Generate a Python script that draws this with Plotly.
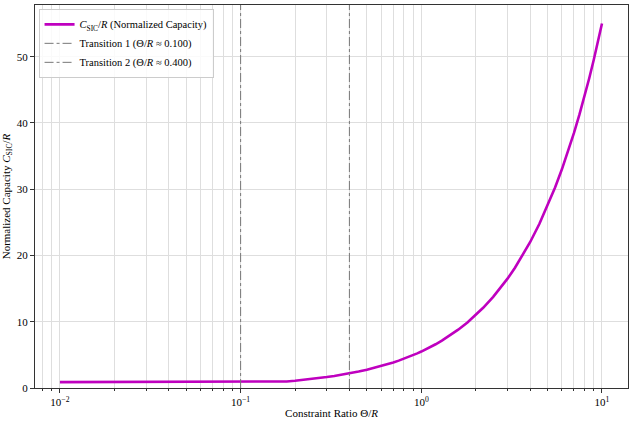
import plotly.graph_objects as go

# curve
theta_r = [0.01, 0.02, 0.05, 0.1, 0.16, 0.18, 0.2, 0.22, 0.25, 0.28, 0.3, 0.33, 0.36, 0.4, 0.45,
           0.5, 0.55, 0.6, 0.65, 0.7, 0.75, 0.8, 0.85, 0.9, 0.95, 1.0, 1.1, 1.2, 1.3, 1.4, 1.5,
           1.6, 1.8, 2.0, 2.2, 2.5, 2.8, 3.0, 3.3, 3.6, 4.0, 4.5, 5.0, 5.5, 6.0, 6.5, 7.0, 7.5,
           8.0, 8.5, 9.0, 9.5, 10.0]
c_sic = [0.88, 0.88, 0.88, 0.88, 0.88, 0.99, 1.1, 1.21, 1.38, 1.54, 1.65, 1.82, 1.98, 2.2, 2.48,
         2.75, 3.03, 3.3, 3.58, 3.85, 4.13, 4.4, 4.68, 4.95, 5.23, 5.5, 6.05, 6.6, 7.15, 7.7, 8.25,
         8.8, 9.9, 11.0, 12.1, 13.75, 15.4, 16.5, 18.15, 19.8, 22.0, 24.75, 27.5, 30.25, 33.0,
         35.75, 38.5, 41.25, 44.0, 46.75, 49.5, 52.25, 55.0]

transitions = [0.1, 0.4]
trans_names = ["Transition 1 (Θ/<i>R</i> ≈ 0.100)", "Transition 2 (Θ/<i>R</i> ≈ 0.400)"]

y_top = 57.8
font = "Liberation Serif"

fig = go.Figure()
fig.add_trace(go.Scatter(x=theta_r, y=c_sic, mode="lines", line=dict(color="#bf00bf", width=2.6),
                         name="<i>C</i><sub>SIC</sub>/<i>R</i> (Normalized Capacity)"))
for t, nm in zip(transitions, trans_names):
    fig.add_trace(go.Scatter(x=[t, t], y=[0, y_top], mode="lines",
                             line=dict(color="#777777", width=1, dash="dashdot"), name=nm))

grid = "#dedede"
fig.update_xaxes(type="log", range=[-2.138, 1.144], automargin=False,
                 tickvals=[0.01, 0.1, 1, 10],
                 ticktext=["10<sup>−2</sup>", "10<sup>−1</sup>", "10<sup>0</sup>", "10<sup>1</sup>"],
                 ticks="outside", ticklen=4, tickcolor="#333", showline=True, linecolor="#333",
                 mirror=True, linewidth=1, showgrid=True, gridcolor=grid, gridwidth=0.8,
                 minor=dict(dtick="D1", ticks="outside", ticklen=2, tickcolor="#333",
                            showgrid=True, gridcolor=grid, gridwidth=0.8),
                 title=dict(text="Constraint Ratio Θ/<i>R</i>", standoff=2, font=dict(size=11)),
                 zeroline=False)
fig.update_yaxes(range=[0, y_top], tickvals=[0, 10, 20, 30, 40, 50], automargin=False,
                 ticks="outside", ticklen=4, tickcolor="#333", showline=True, linecolor="#333",
                 mirror=True, linewidth=1, showgrid=True, gridcolor=grid, gridwidth=0.8,
                 title=dict(text="Normalized Capacity <i>C</i><sub>SIC</sub>/<i>R</i>", standoff=8,
                            font=dict(size=11)),
                 zeroline=False)
fig.update_layout(width=634, height=421, margin=dict(l=35, r=6, t=5, b=33),
                  plot_bgcolor="white", paper_bgcolor="white",
                  font=dict(family=font, size=11, color="black"),
                  legend=dict(x=0.006, y=0.99, xanchor="left", yanchor="top",
                              bgcolor="rgba(255,255,255,0.85)", bordercolor="#cccccc", borderwidth=1,
                              font=dict(size=10.5), tracegroupgap=0, itemwidth=30),
                  showlegend=True)

fig.write_html("out.html", post_script="document.body.style.margin='0';",
               config={"displayModeBar": False})
